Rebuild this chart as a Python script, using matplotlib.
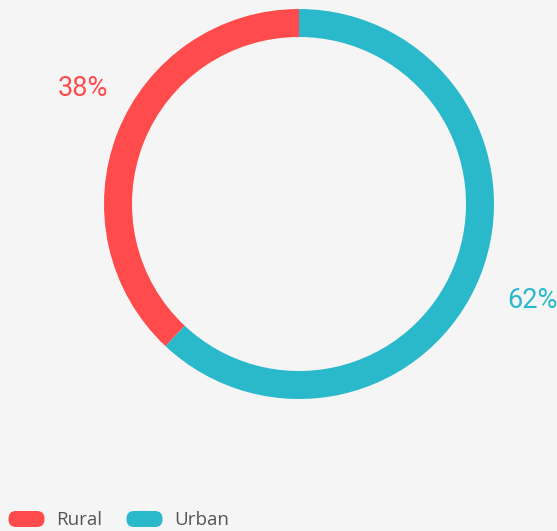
import matplotlib
matplotlib.use("Agg")
import matplotlib.pyplot as plt
from matplotlib.patches import FancyBboxPatch

categories = ["Rural", "Urban"]
values = [38, 62]
colors = ["#FF4B4B", "#2AB8CB"]

W, H = 557, 531
fig = plt.figure(figsize=(W / 100, H / 100), dpi=100, facecolor="#F5F5F5")
ax = fig.add_axes([0, 0, 1, 1])
ax.set_xlim(0, W)
ax.set_ylim(0, H)
ax.set_aspect("equal")
ax.axis("off")
ax.set_facecolor("#F5F5F5")

cx, cy = 299, H - 204
R = 195
ax.pie(values, colors=colors, startangle=90, counterclock=True,
       center=(cx, cy), radius=R, frame=True,
       wedgeprops=dict(width=28, linewidth=0))
ax.set_xlim(0, W)
ax.set_ylim(0, H)
ax.axis("off")

label_pos = [(83, H - 89), (532, H - 300)]
pct_font = ["Roboto", "DejaVu Sans"]
for v, c, (x, y) in zip(values, colors, label_pos):
    ax.text(x, y, f"{v}%", color=c, fontsize=19.5, ha="center", va="center",
            family=pct_font)

# legend
leg_x = [8, 126]
for cat, c, x in zip(categories, colors, leg_x):
    p = FancyBboxPatch((x + 8, H - 519 - 0.5), 21, 1,
                       boxstyle="round,pad=7.5", fc=c, ec="none")
    ax.add_patch(p)
    ax.text(x + 48, H - 520, cat, color="#555555", fontsize=13.5,
            ha="left", va="center", family=["Open Sans", "DejaVu Sans"])

fig.savefig("out.png", dpi=100, facecolor="#F5F5F5")
